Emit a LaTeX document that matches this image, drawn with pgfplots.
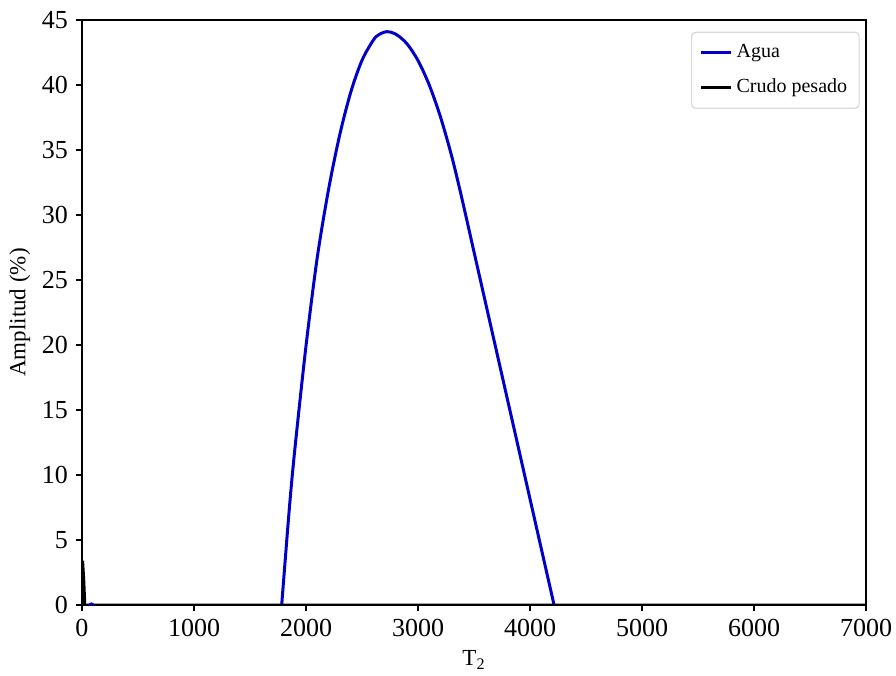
\documentclass[border=0pt]{standalone}
\usepackage{pgfplots}
\pgfplotsset{compat=1.18}
\usepackage{fontspec}
\setmainfont{Liberation Serif}
\definecolor{agua}{RGB}{0,0,200}
\begin{document}
\fontsize{11.5pt}{13pt}\selectfont
\begin{tikzpicture}
\begin{axis}[
  scale only axis,
  width=392pt, height=292.5pt,
  xmin=0, xmax=7000, ymin=0, ymax=45,
  xtick={0,1000,...,7000}, ytick={0,5,...,45},
  /pgf/number format/assume math mode=true,
  /pgf/number format/1000 sep={},
  tick label style={font=\fontsize{13pt}{15pt}\selectfont},
  label style={font=\fontsize{11.5pt}{13pt}\selectfont},
  xtick pos=bottom, ytick pos=left,
  tick align=outside,
  major tick length=3pt,
  axis line style={line width=0.8pt},
  every tick/.style={black, line width=0.6pt},
  xlabel={T\textsubscript{2}},
  ylabel={Amplitud (\%)},
  xlabel style={yshift=1pt},
  ylabel style={yshift=-2pt},
  legend style={at={(rel axis cs:0.992,0.98)}, anchor=north east,
    draw=black!15, rounded corners=2pt, line width=0.6pt,
    font=\fontsize{10pt}{12pt}\selectfont, row sep=5pt,
    inner xsep=4pt, inner ysep=4pt},
  legend cell align=left,
  legend image code/.code={\draw[#1] (0pt,0pt) -- (15pt,0pt);},
]
\addplot[agua, line width=1.5pt, smooth] coordinates {
 (1783,0) (1850,7.3) (1900,11.95) (2000,19.93) (2100,26.7) (2200,31.9)
 (2300,36.12) (2400,39.46) (2500,41.9) (2600,43.44) (2650,43.87) (2721,44.1)
 (2800,43.92) (2900,43.19) (3000,41.88) (3100,40.01) (3200,37.56) (3300,34.55)
 (3388,31.42) (3500,27.16) (3600,23.36) (3700,19.56) (3800,15.76)
 (3900,11.96) (4000,8.16) (4100,4.36) (4215,0)
};
\addlegendentry{Agua}
\addplot[black, line width=1.5pt] coordinates {
 (0,0) (5,3.4) (15,2.0) (25,0) (7000,0)
};
\addlegendentry{Crudo pesado}
\addplot[agua, line width=1pt, forget plot] coordinates {(60,0) (85,0.12) (110,0)};
\end{axis}
\pgfresetboundingbox
\useasboundingbox ([shift={(-41pt,-35pt)}]current axis.south west) rectangle ([shift={(15pt,10pt)}]current axis.north east);
\end{tikzpicture}
\end{document}
